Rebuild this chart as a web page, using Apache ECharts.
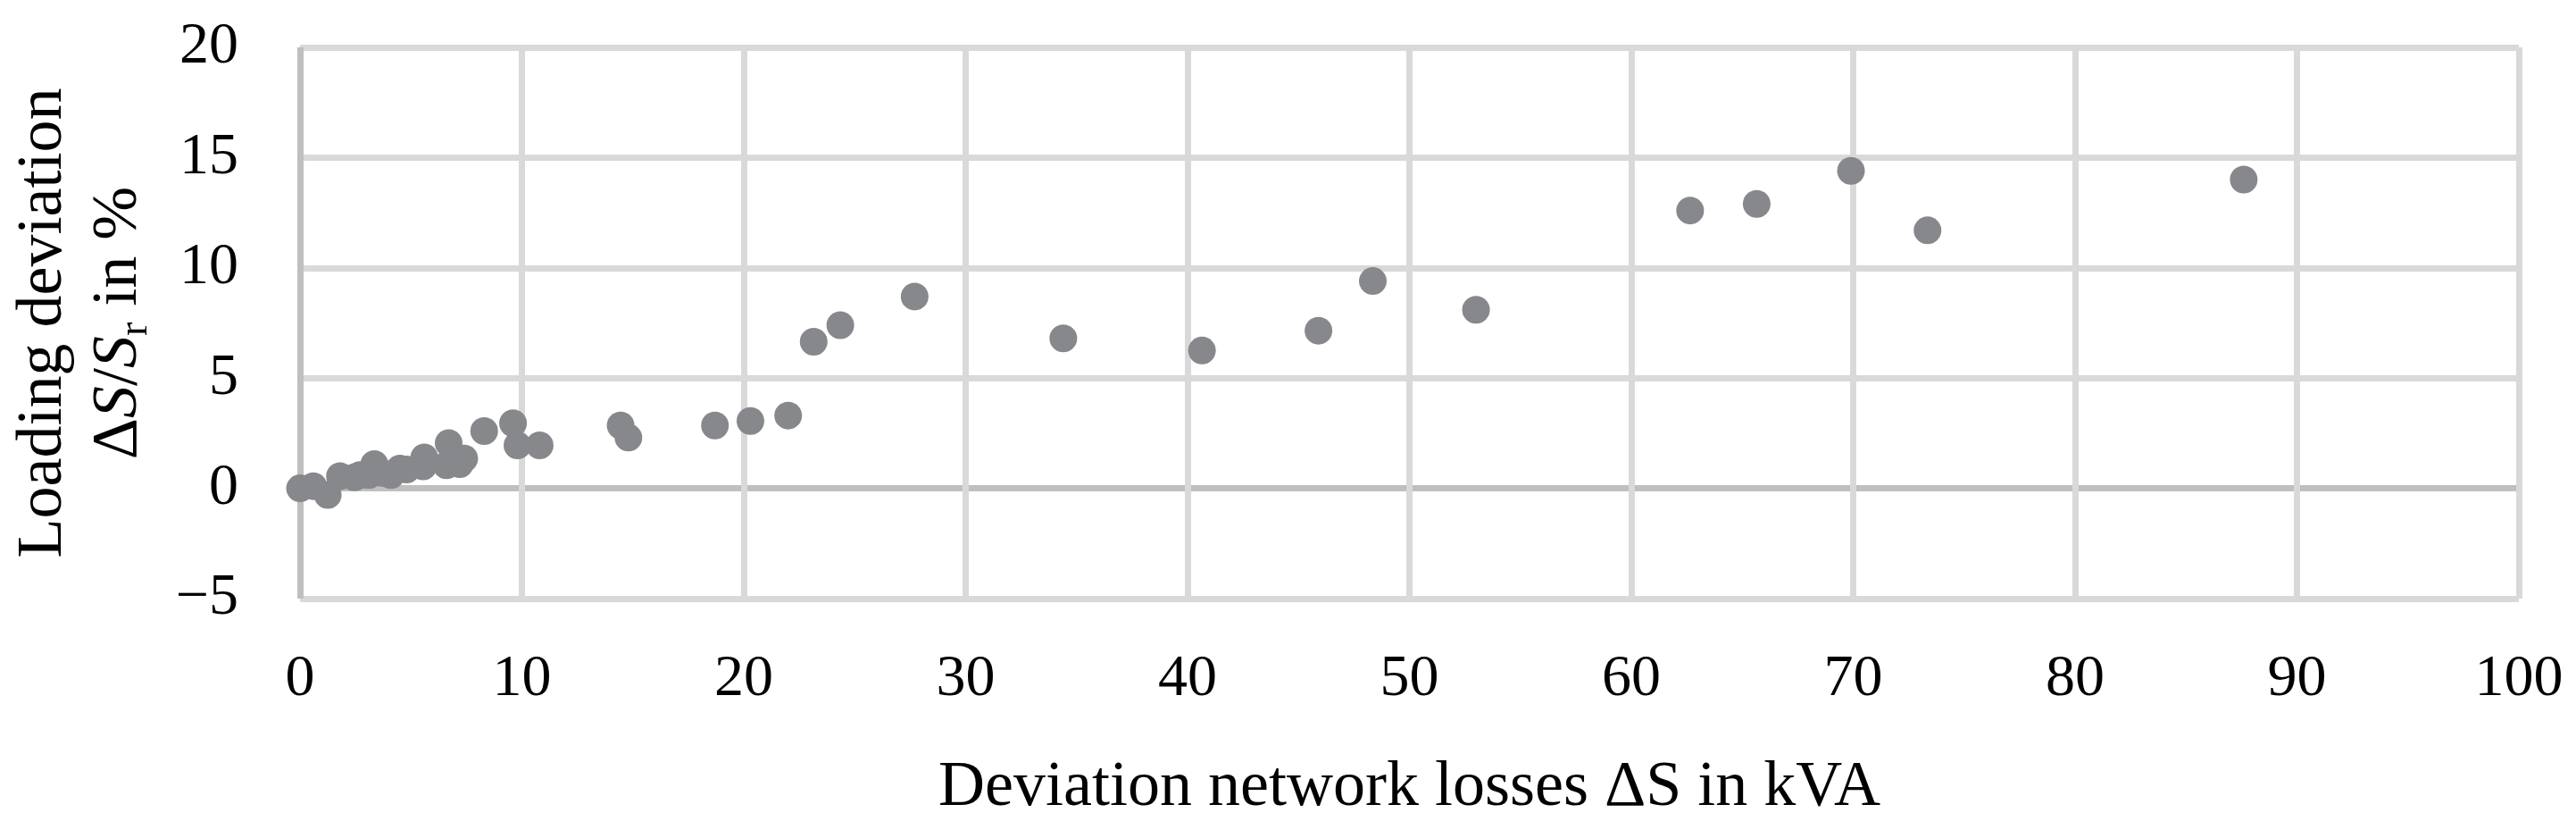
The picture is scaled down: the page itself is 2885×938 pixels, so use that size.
<!DOCTYPE html>
<html>
<head>
<meta charset="utf-8">
<script src="https://cdn.jsdelivr.net/npm/echarts@6/dist/echarts.min.js"></script>
<style>
html,body{margin:0;padding:0;background:#fff;}
#chart{width:2885px;height:938px;}
</style>
</head>
<body>
<div id="chart"></div>
<script>
// Deviation network losses ΔS in kVA (x) vs loading deviation ΔS/Sr in % (y)
const lossDeviation = [0, 0.6, 1.25, 1.8, 2.45, 2.7, 3.1, 3.35, 3.7, 4.1, 4.5, 4.8, 5.55, 5.6, 6.6, 6.7, 7.2, 7.4,
  8.3, 9.6, 9.8, 10.8, 14.45, 14.8, 18.7, 20.3, 22.0, 23.15, 24.35, 27.7, 34.4, 40.65, 45.9, 48.35, 53.0,
  62.65, 65.65, 69.9, 73.35, 87.6];
const loadingDeviation = [0, 0.1, -0.3, 0.55, 0.5, 0.6, 0.6, 1.1, 0.7, 0.6, 0.9, 0.85, 1.0, 1.4, 1.05, 2.05, 1.1, 1.35,
  2.6, 2.95, 1.95, 1.95, 2.85, 2.3, 2.85, 3.05, 3.3, 6.65, 7.4, 8.7, 6.8, 6.25, 7.15, 9.4, 8.1,
  12.6, 12.9, 14.4, 11.7, 14.0];
const xTickLabels = ['0','10','20','30','40','50','60','70','80','90','100'];
const yTickValues = [-5, 0, 5, 10, 15, 20];
const yTickLabels = ['\u22125','0','5','10','15','20'];

const points = lossDeviation.map((x, i) => [x, loadingDeviation[i]]);
const FONT = 'Liberation Serif';
const LIGHT = '#d9d9d9';
const DARK = '#bfbfbf';

const chart = echarts.init(document.getElementById('chart'), null, {renderer: 'canvas'});
chart.setOption({
  animation: false,
  backgroundColor: '#ffffff',
  grid: {left: 336, right: 64, top: 53, bottom: 268, containLabel: false},
  xAxis: {
    type: 'value', min: 0, max: 100, interval: 10,
    axisLine: {show: false}, axisTick: {show: false},
    splitLine: {show: true, showMinLine: true, showMaxLine: true,
      lineStyle: {width: 7, color: [DARK].concat(new Array(10).fill(LIGHT))}},
    axisLabel: {margin: 58, fontFamily: FONT, fontSize: 66, color: '#000',
      formatter: (v) => xTickLabels[Math.round(v / 10)]},
    name: 'Deviation network losses \u0394S in kVA',
    nameLocation: 'middle', nameGap: 176,
    nameTextStyle: {fontFamily: FONT, fontSize: 72, color: '#000'}
  },
  yAxis: {
    type: 'value', min: -5, max: 20, interval: 5,
    axisLine: {show: false}, axisTick: {show: false},
    splitLine: {show: true, showMinLine: true, showMaxLine: true,
      lineStyle: {width: 7, color: yTickValues.map(v => v === 0 ? DARK : LIGHT)}},
    axisLabel: {margin: 69, fontFamily: FONT, fontSize: 66, color: '#000',
      formatter: (v) => yTickLabels[yTickValues.indexOf(v)]},
    name: '{n|Loading deviation}\n{n|\u0394}{it|S}{n|/}{it|S}{sub|r}{n| in %}',
    nameLocation: 'middle', nameRotate: 90, nameGap: 161,
    nameTextStyle: {
      fontFamily: FONT, fontSize: 72, color: '#000',
      rich: {
        n: {fontFamily: FONT, fontSize: 72, lineHeight: 84, color: '#000'},
        it: {fontFamily: FONT, fontSize: 72, lineHeight: 84, fontStyle: 'italic', color: '#000'},
        sub: {fontFamily: FONT, fontSize: 46, lineHeight: 44, verticalAlign: 'bottom', color: '#000'}
      }
    }
  },
  series: [{
    type: 'scatter',
    data: points,
    symbol: 'circle',
    symbolSize: 31,
    itemStyle: {color: '#87888c', opacity: 1},
    emphasis: {disabled: true}
  }]
});
</script>
</body>
</html>
